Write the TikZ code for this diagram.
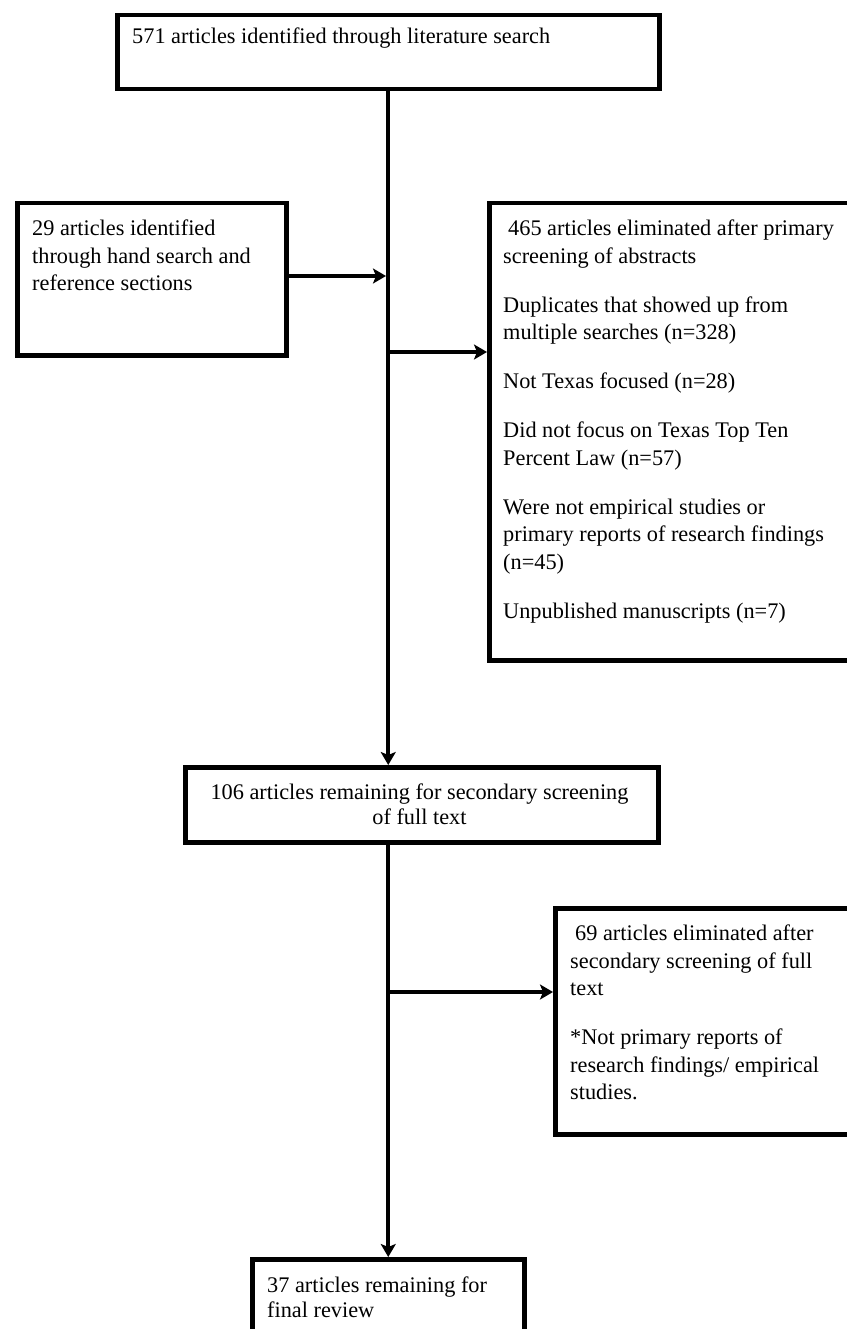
\documentclass[tikz,border=0pt]{standalone}
\usepackage{fontspec}
\setmainfont{Liberation Serif}
\usetikzlibrary{arrows.meta}
\begin{document}
\begin{tikzpicture}[x=1pt,y=-1pt,
  box/.style={draw=black,line width=4.5pt,fill=white,inner sep=0pt,anchor=north west},
  txt/.style={inner sep=0pt,align=left,anchor=north west,font=\fontsize{22.3}{27.5}\selectfont},
  ctxt/.style={inner sep=0pt,align=center,anchor=north,font=\fontsize{22.3}{25}\selectfont},
  arr/.style={line width=4pt,-{Stealth[length=13pt,width=15pt,inset=3pt]}},
  ln/.style={line width=4pt}]
\useasboundingbox (0,0) rectangle (846,1329);
% boxes
\node[box,minimum width=542pt,minimum height=74pt] (top) at (115,13) {};
\node[box,minimum width=269pt,minimum height=152pt] (left) at (15,201) {};
\node[box,minimum width=365pt,minimum height=457pt] (rbox) at (487,201) {};
\node[box,minimum width=473pt,minimum height=75pt] (mid) at (183,765) {};
\node[box,minimum width=299pt,minimum height=226pt] (ebox) at (553,906) {};
\node[box,minimum width=272pt,minimum height=110pt] (final) at (250,1257) {};
% texts
\node[txt,anchor=base west] (ttop) at (132,44) {571 articles identified through literature search};
\node[txt] (tleft) at (32,219.8) {29 articles identified\\through hand search and\\reference sections};
\node[txt] (trbox) at (503,219.8) {\hspace{5pt}465 articles eliminated after primary\\screening of abstracts\\[21.5pt]Duplicates that showed up from\\multiple searches (n=328)\\[21.5pt]Not Texas focused (n=28)\\[21.5pt]Did not focus on Texas Top Ten\\Percent Law (n=57)\\[21.5pt]Were not empirical studies or\\primary reports of research findings\\(n=45)\\[21.5pt]Unpublished manuscripts (n=7)};
\node[ctxt] (tmid) at (419.5,783.8) {106 articles remaining for secondary screening\\of full text};
\node[txt] (tebox) at (570,924.8) {\hspace{5pt}69 articles eliminated after\\secondary screening of full\\text\\[21.5pt]*Not primary reports of\\research findings/ empirical\\studies.};
\node[txt,font=\fontsize{22.3}{25}\selectfont] (tfinal) at (267,1276.8) {37 articles remaining for\\final review};
% junctions
\coordinate (j1) at (386,276);
\coordinate (j2) at (386,352);
\coordinate (j3) at (386,992);
\coordinate (b2) at (top.south |- mid.south);
% connectors
\draw[arr] (top.south) -- (top.south |- mid.north);
\draw[arr] (left.east |- j1) -- (j1);
\draw[arr] (j2) -- (j2 -| rbox.west);
\draw[arr] (b2) -- (b2 |- final.north);
\draw[arr] (j3) -- (j3 -| ebox.west);
\end{tikzpicture}
\end{document}
